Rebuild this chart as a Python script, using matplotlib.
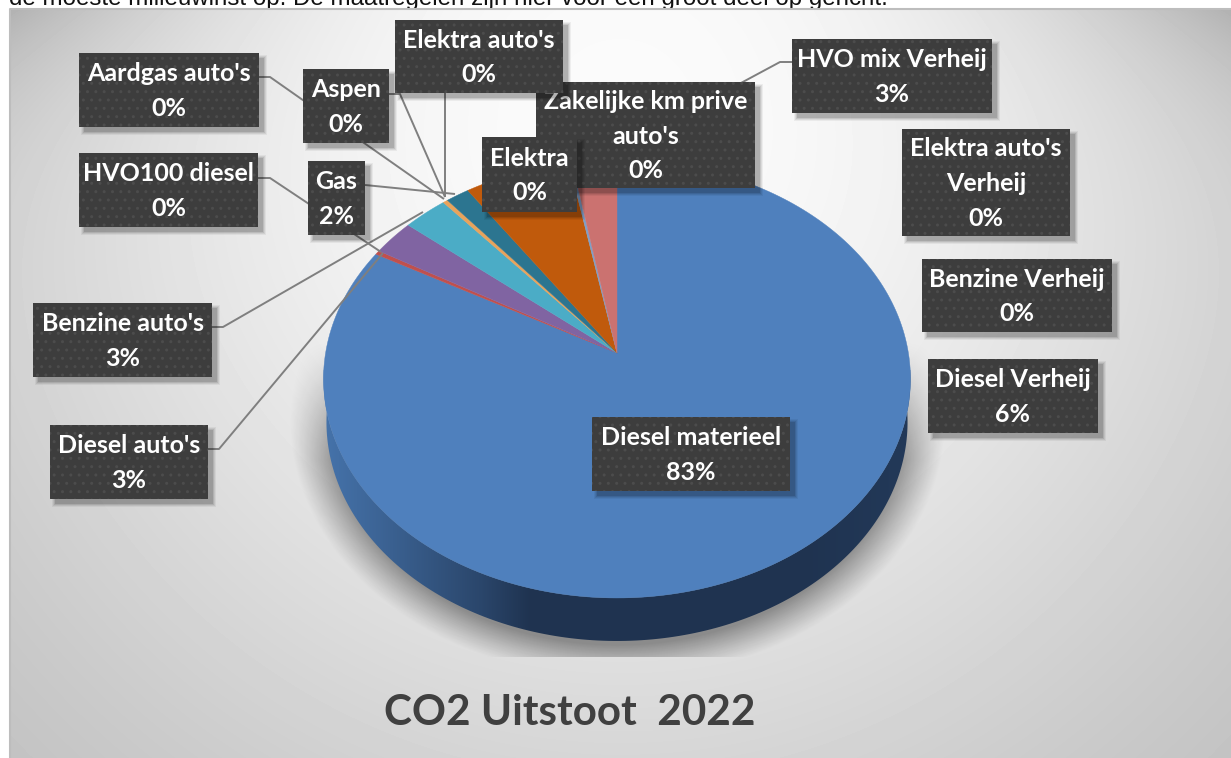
import numpy as np
import matplotlib
matplotlib.use("Agg")
import matplotlib.pyplot as plt
from matplotlib.patches import Polygon, Rectangle

# slices clockwise from twelve o'clock
slice_values = [83.0, 0.3, 2.65, 2.75, 0.3, 1.45, 6.55, 0.2, 2.75]
slice_colors = ["#4f80bd", "#c0504d", "#8064a2", "#4bacc6", "#e8a35c", "#2c7590", "#c05a0c", "#7f9fc8", "#cb7270"]

label_names = ["Aardgas auto's", "HVO100 diesel", "Benzine auto's", "Diesel auto's", "Gas", "Aspen",
               "HVO mix Verheij", "Elektra auto's\nVerheij", "Benzine Verheij", "Diesel Verheij",
               "Zakelijke km prive\nauto's", "Elektra auto's", "Elektra", "Diesel materieel"]
label_pcts = ["0%", "0%", "3%", "3%", "2%", "0%", "3%", "0%", "0%", "6%", "0%", "0%", "0%", "83%"]

# left, top, right, bottom in pixels
label_boxes = [(79, 53, 259, 127), (79, 153, 258, 227), (33, 303, 212, 377), (50, 425, 208, 499),
               (308, 161, 365, 235), (303, 69, 389, 143), (792, 39, 992, 113), (902, 129, 1070, 236),
               (922, 259, 1112, 332), (928, 359, 1098, 433), (536, 82, 755, 188), (395, 20, 563, 93),
               (482, 137, 577, 212), (592, 417, 790, 491)]

leader_lines = [
    [(259, 77), (270, 77), (444, 199)],
    [(389, 94), (400, 94), (445, 197)],
    [(445, 93), (445, 197)],
    [(365, 185), (455, 194)],
    [(258, 178), (270, 178), (381, 252)],
    [(212, 327), (223, 327), (423, 212)],
    [(208, 449), (219, 449), (383, 253)],
    [(792, 62), (780, 62), (700, 105)],
]

title = "CO2 Uitstoot  2022"
cut_text = "de moeste milieuwinst op. De maatregelen zijn hier voor een groot deel op gericht."

W, H = 1231, 758
LABEL_FONT = "Lato"
APEX_X, APEX_Y = 617, 353
PERSP_A, PERSP_C, PERSP_S = -174.0, 0.1187, 291.4
DEPTH = 43


def to_image(u, v, shrink=1.0, drop=0):
    # unit disc to picture pixels, far edge is squeezed
    w = 1 + PERSP_C * v
    return APEX_X + shrink * PERSP_S * u / w, (PERSP_A * v + APEX_Y) / w + drop


def make_background():
    yy, xx = np.mgrid[9:H, 10:W]
    d = np.sqrt(((xx - 620) / 620.0) ** 2 + ((yy - 120) / 640.0) ** 2)
    shade = np.polyfit([0, 0.5, 0.9, 1.05, 1.44], [250, 240, 218, 212, 194], 3)
    gray = np.polyval(shade, d)
    gray -= 38 * np.exp(-(yy - 9) / 90.0) * (np.abs(xx - 620) / 620.0) ** 3
    return gray / 255.0


def make_shadow():
    yy, xx = np.mgrid[300:657, 290:945]
    r = np.sqrt(((xx - 617) / 328.0) ** 2 + ((yy - 420) / 258.0) ** 2)
    alpha = 0.38 * np.clip((1.0 - r) / 0.13, 0, 1) ** 1.1
    alpha *= np.clip((yy - 340) / 120.0, 0, 1)
    rgba = np.zeros(xx.shape + (4,))
    rgba[..., 3] = alpha
    return rgba


fig = plt.figure(figsize=(W / 100, H / 100), dpi=100)
ax = fig.add_axes([0, 0, 1, 1])
ax.set_axis_off()

ax.text(9, 5, cut_text, fontsize=17.4, family="Liberation Sans", color="#111111", va="baseline", zorder=0)
ax.imshow(make_background(), cmap="gray", vmin=0, vmax=1, extent=(10, W, H, 9), aspect="auto", zorder=1)
ax.plot([9.5, 9.5, W], [H, 8.5, 8.5], color="#bdbdbd", lw=1.5, zorder=1.5)
ax.imshow(make_shadow(), extent=(290, 945, 657, 300), aspect="auto", zorder=2)

# pie side, front half of the rim down to the base
t = np.radians(np.linspace(175, 365, 200))
top_x, top_y = to_image(np.cos(t), np.sin(t))
base_x, base_y = to_image(np.cos(t), np.sin(t), shrink=0.99, drop=DEPTH)
side_gradient = np.interp(np.arange(320, 915), [320, 380, 480, 530, 800, 915], [0.0, 0.25, 0.7, 1.0, 1.0, 0.9])
side_rgb = np.outer(1 - side_gradient, [0x46, 0x74, 0xac]) + np.outer(side_gradient, [0x1f, 0x33, 0x50])
side_img = ax.imshow((side_rgb / 255.0)[None, :, :], extent=(320, 915, 650, 370), aspect="auto", zorder=3)
side_clip = Polygon(np.c_[np.r_[top_x, base_x[::-1]], np.r_[top_y, base_y[::-1]]], closed=True, transform=ax.transData)
side_img.set_clip_path(side_clip)

# pie gives the wedge angles, the top face is then drawn in perspective
pie_ax = fig.add_axes([0, 0, 0.1, 0.1])
wedges, _ = pie_ax.pie(slice_values, startangle=90, counterclock=False, colors=slice_colors, normalize=True)
pie_ax.set_visible(False)
for wedge in wedges:
    angles = np.radians(np.linspace(wedge.theta1, wedge.theta2, 240))
    px, py = to_image(np.r_[0, np.cos(angles)], np.r_[0, np.sin(angles)])
    ax.fill(px, py, color=wedge.get_facecolor(), lw=0.3, zorder=4)

for line in leader_lines:
    xs, ys = zip(*line)
    ax.plot(xs, ys, color="#7f7f7f", lw=1.4, zorder=5, solid_capstyle="butt")

for i, (name, pct, box) in enumerate(zip(label_names, label_pcts, label_boxes)):
    left, top, right, bottom = box
    z = 6 + i * 0.01
    for grow, a in [(6, 0.05), (4, 0.07), (2, 0.09), (0, 0.12)]:
        ax.add_patch(Rectangle((left + 5 - grow / 2, top + 5 - grow / 2), right - left + grow, bottom - top + grow,
                               facecolor="black", alpha=a, lw=0, zorder=z))
    ax.add_patch(Rectangle((left, top), right - left, bottom - top, facecolor="#3d3d3d", edgecolor="#4c4c4c",
                           hatch="..", lw=0, zorder=z))
    ax.text((left + right) / 2, (top + bottom) / 2 + 1, name + "\n" + pct, color="white", family=LABEL_FONT,
            weight="bold", fontsize=18, ha="center", va="center", linespacing=1.62, zorder=z)

ax.text(569.5, 713, title, color="#404040", family=LABEL_FONT, weight="bold", fontsize=30.4, ha="center", va="center", zorder=6)

ax.set_xlim(0, W)
ax.set_ylim(H, 0)
fig.savefig("out.png", dpi=100)
plt.close(fig)
